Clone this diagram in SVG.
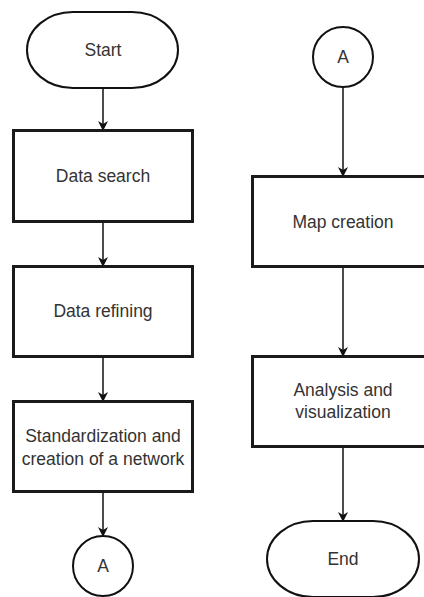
<svg xmlns="http://www.w3.org/2000/svg" width="424" height="597" viewBox="0 0 424 597">
  <defs>
    <marker id="arrow" viewBox="0 0 10 10" refX="9" refY="5" markerWidth="10" markerHeight="10" markerUnits="userSpaceOnUse" orient="auto">
      <path d="M0,0 L10,5 L0,10 L3,5 Z" fill="#111"/>
    </marker>
  </defs>
  <style>
    .term { fill: #fff; stroke: #111; stroke-width: 2; }
    .box { fill: #fff; stroke: #1a1a1a; stroke-width: 3; }
    .conn { fill: #fff; stroke: #111; stroke-width: 2; }
    .edge { fill: none; stroke: #111; stroke-width: 1.5; marker-end: url(#arrow); }
    .lbl { font-family: "Liberation Sans", Arial, sans-serif; font-size: 17.5px; fill: #333; text-anchor: middle; dominant-baseline: central; }
  </style>
  <rect width="424" height="597" fill="#fff"/>

  <g id="connectors">
    <line class="edge" x1="103" y1="88" x2="103" y2="130"/>
    <line class="edge" x1="103" y1="222" x2="103" y2="266"/>
    <line class="edge" x1="103" y1="357" x2="103" y2="401"/>
    <line class="edge" x1="103" y1="492" x2="103" y2="536"/>
    <line class="edge" x1="343" y1="87" x2="343" y2="176"/>
    <line class="edge" x1="343" y1="267" x2="343" y2="356"/>
    <line class="edge" x1="343" y1="447" x2="343" y2="521"/>
  </g>

  <g id="start">
    <rect class="term" x="27" y="12" width="151" height="76" rx="46" ry="38"/>
    <text class="lbl" x="103" y="50">Start</text>
  </g>
  <g id="data-search">
    <rect class="box" x="13.5" y="130.5" width="179" height="91"/>
    <text class="lbl" x="103" y="176">Data search</text>
  </g>
  <g id="data-refining">
    <rect class="box" x="13.5" y="266.5" width="179" height="90"/>
    <text class="lbl" x="103" y="311">Data refining</text>
  </g>
  <g id="standardization">
    <rect class="box" x="13.5" y="401.5" width="179" height="90"/>
    <text class="lbl" x="103" y="436">Standardization and</text>
    <text class="lbl" x="103" y="459">creation of a network</text>
  </g>
  <g id="connector-a-out">
    <circle class="conn" cx="103" cy="566" r="30"/>
    <text class="lbl" x="103" y="566">A</text>
  </g>

  <g id="connector-a-in">
    <circle class="conn" cx="343" cy="57" r="30"/>
    <text class="lbl" x="343" y="57">A</text>
  </g>
  <g id="map-creation">
    <rect class="box" x="252.5" y="176.5" width="180" height="90"/>
    <text class="lbl" x="343" y="222">Map creation</text>
  </g>
  <g id="analysis">
    <rect class="box" x="252.5" y="356.5" width="180" height="90"/>
    <text class="lbl" x="343" y="390">Analysis and</text>
    <text class="lbl" x="343" y="412">visualization</text>
  </g>
  <g id="end">
    <rect class="term" x="267" y="521" width="152" height="76" rx="46" ry="38"/>
    <text class="lbl" x="343" y="559">End</text>
  </g>
</svg>
